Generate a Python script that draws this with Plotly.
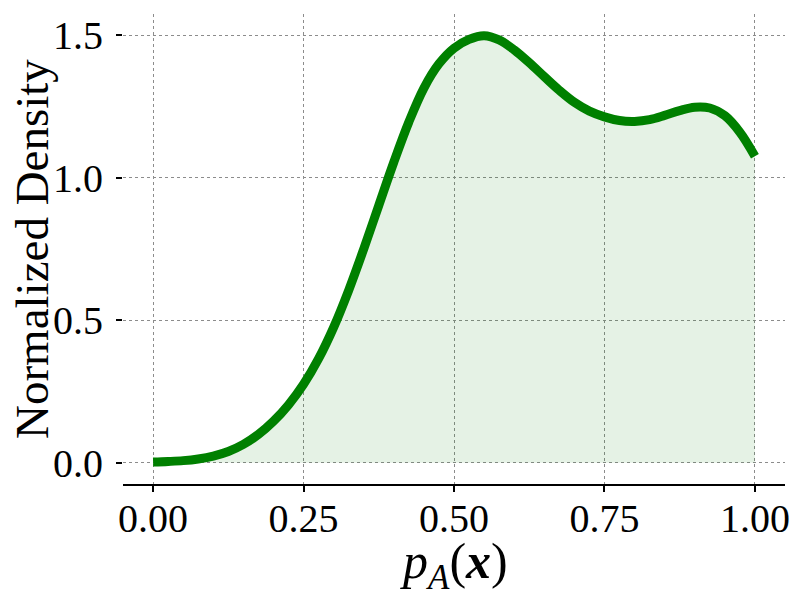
import plotly.graph_objects as go

# Data
x_vals = [0.0, 0.025, 0.05, 0.075, 0.10, 0.125, 0.15, 0.175, 0.20, 0.225, 0.25, 0.275, 0.30, 0.325,
          0.35, 0.375, 0.40, 0.425, 0.45, 0.475, 0.50, 0.525, 0.55, 0.575, 0.60, 0.625,
          0.65, 0.675, 0.70, 0.725, 0.75, 0.775, 0.80, 0.825, 0.85, 0.875, 0.90, 0.925,
          0.95, 0.975, 1.00]
density = [0.002, 0.004, 0.007, 0.013, 0.023, 0.039, 0.064, 0.099, 0.145, 0.203, 0.275, 0.365, 0.475, 0.605,
           0.750, 0.903, 1.055, 1.196, 1.315, 1.400, 1.455, 1.486, 1.499, 1.484, 1.449, 1.404,
           1.355, 1.307, 1.265, 1.234, 1.214, 1.201, 1.198, 1.204, 1.219, 1.236, 1.248, 1.245,
           1.218, 1.160, 1.076]

x_ticks = [0.0, 0.25, 0.5, 0.75, 1.0]
x_ticklabels = ["0.00", "0.25", "0.50", "0.75", "1.00"]
y_ticks = [0.0, 0.5, 1.0, 1.5]
y_ticklabels = ["0.0", "0.5", "1.0", "1.5"]

FONT = "Liberation Serif"

fig = go.Figure()
fig.add_trace(go.Scatter(
    x=x_vals, y=density, mode="lines",
    line=dict(color="green", width=9, shape="spline", smoothing=1.0),
    fill="tozeroy", fillcolor="rgba(0,128,0,0.1)",
    showlegend=False, hoverinfo="skip",
))

fig.update_layout(
    width=792, height=592,
    margin=dict(l=115, r=15, t=6, b=116),
    paper_bgcolor="white", plot_bgcolor="white",
    font=dict(family=FONT, size=40, color="black"),
)
fig.update_xaxes(
    range=[-0.05, 1.05], automargin=False,
    tickvals=x_ticks, ticktext=x_ticklabels,
    showgrid=True, gridcolor="#8c8c8c", griddash="dot", gridwidth=1,
    showline=True, linecolor="black", linewidth=2,
    ticks="outside", ticklen=6, tickwidth=1.5, tickcolor="black",
    ticklabelstandoff=-8,
    zeroline=False,
)
fig.update_yaxes(
    range=[-0.075, 1.575], automargin=False,
    tickvals=y_ticks, ticktext=y_ticklabels,
    showgrid=True, gridcolor="#8c8c8c", griddash="dot", gridwidth=1,
    showline=False,
    ticks="outside", ticklen=6, tickwidth=1.5, tickcolor="black",
    ticklabelstandoff=5,
    zeroline=False,
)
fig.add_annotation(
    text="<i>p</i><sub><i>A</i></sub>(<b><i>x</i></b>)",
    xref="paper", yref="paper", x=0.5, y=-0.172, xanchor="center", yanchor="middle",
    showarrow=False, font=dict(size=50),
)
fig.add_annotation(
    text="Normalized Density",
    xref="paper", yref="paper", x=-0.1375, y=0.5, xanchor="center", yanchor="middle",
    textangle=-90, showarrow=False, font=dict(size=47),
)

fig.write_html("out.html")
